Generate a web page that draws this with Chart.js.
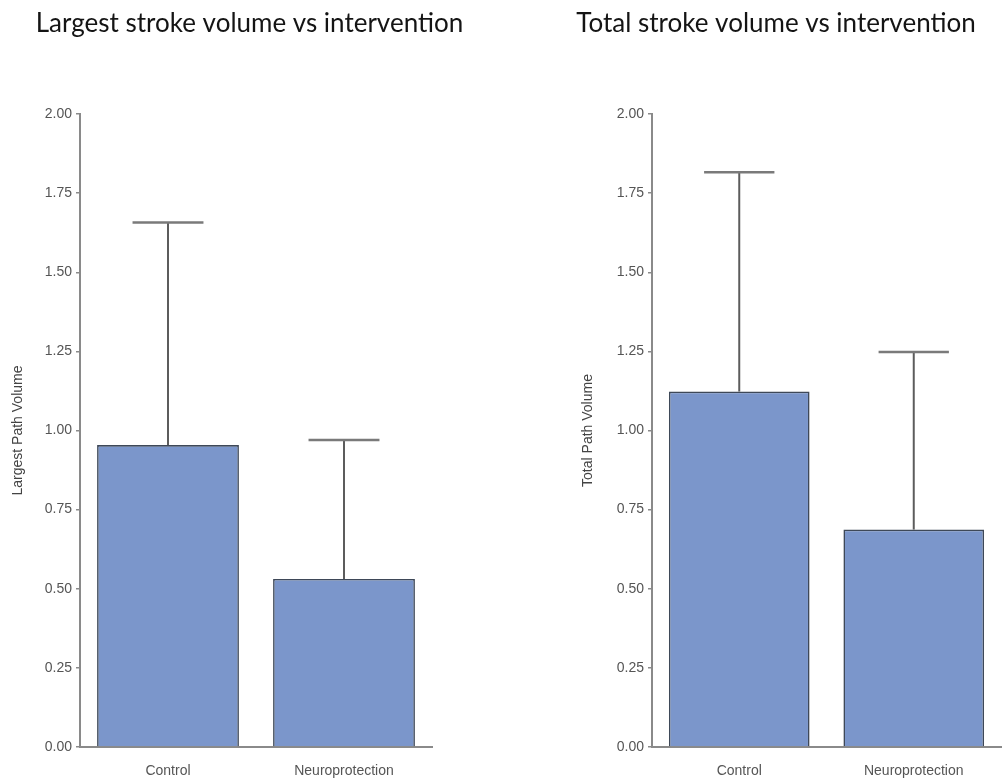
<!DOCTYPE html>
<html>
<head>
<meta charset="utf-8">
<script src="https://cdn.jsdelivr.net/npm/chart.js@4.4.1/dist/chart.umd.min.js"></script>
<style>
  html, body { margin: 0; padding: 0; background: #ffffff; }
  body { width: 1002px; height: 781px; position: relative; overflow: hidden; }
  .panel { position: absolute; top: 0; height: 781px; }
  #leftPanel { left: 0; width: 499px; }
  #rightPanel { left: 550px; width: 452px; }
</style>
</head>
<body>
<div class="panel" id="leftPanel"><canvas id="largestChart"></canvas></div>
<div class="panel" id="rightPanel"><canvas id="totalChart"></canvas></div>
<script>
// Groups compared in both panels
const categories = ['Control', 'Neuroprotection'];

// Largest path volume: group means and upper error limits
const largestMean = [0.954, 0.531];
const largestUpper = [1.657, 0.970];

// Total path volume: group means and upper error limits
const totalMean = [1.123, 0.687];
const totalUpper = [1.816, 1.248];

// Value axis ticks
const yTicks = [0, 0.25, 0.5, 0.75, 1.0, 1.25, 1.5, 1.75, 2.0];

const BAR_FILL = '#7b96cb';
const BAR_EDGE = '#3e4858';
const AXIS_GRAY = '#8a8a8a';
const LABEL_GRAY = '#555555';

// Draws one-sided (upward) error bars with a horizontal cap
const upperErrorBars = {
  id: 'upperErrorBars',
  afterDatasetsDraw(chart, args, opts) {
    const meta = chart.getDatasetMeta(0);
    const yScale = chart.scales.y;
    const ctx = chart.ctx;
    ctx.save();
    meta.data.forEach((bar, i) => {
      const top = yScale.getPixelForValue(opts.upper[i]);
      const base = yScale.getPixelForValue(chart.data.datasets[0].data[i]);
      const half = bar.width * 0.25;
      ctx.strokeStyle = '#5c5c5c';
      ctx.lineWidth = 2;
      ctx.beginPath();
      ctx.moveTo(bar.x, base);
      ctx.lineTo(bar.x, top);
      ctx.stroke();
      ctx.strokeStyle = '#7a7a7a';
      ctx.lineWidth = 2.5;
      ctx.beginPath();
      ctx.moveTo(bar.x - half, top);
      ctx.lineTo(bar.x + half, top);
      ctx.stroke();
    });
    ctx.restore();
  }
};

function buildChart(canvasId, title, axisTitle, means, upper, axisWidth, titlePad, rightSpace) {
  return new Chart(document.getElementById(canvasId), {
    type: 'bar',
    data: {
      labels: categories,
      datasets: [{
        data: means,
        backgroundColor: BAR_FILL,
        borderColor: BAR_EDGE,
        borderWidth: 1.6,
        barPercentage: 0.806,
        categoryPercentage: 1.0
      }]
    },
    options: {
      responsive: true,
      maintainAspectRatio: false,
      animation: false,
      layout: { padding: 0 },
      plugins: {
        legend: { display: false },
        tooltip: { enabled: false },
        title: {
          display: true,
          text: title,
          color: '#141414',
          font: { family: 'Lato', size: 26, weight: 'normal' },
          padding: { top: 8, bottom: 74.8 }
        },
        upperErrorBars: { upper: upper }
      },
      scales: {
        x: {
          offset: true,
          grid: { display: false, drawTicks: false },
          border: { display: true, color: AXIS_GRAY, width: 2 },
          ticks: { color: LABEL_GRAY, padding: 16, font: { family: 'Liberation Sans', size: 14 } },
          afterFit(scale) { scale.height = 34; }
        },
        y: {
          min: 0,
          max: 2,
          afterBuildTicks(scale) { scale.ticks = yTicks.map(v => ({ value: v })); },
          grid: { display: true, drawOnChartArea: false, drawTicks: true, tickLength: 4, color: AXIS_GRAY, lineWidth: 1.5 },
          border: { display: true, color: AXIS_GRAY, width: 2 },
          ticks: {
            color: LABEL_GRAY,
            padding: 4,
            font: { family: 'Liberation Sans', size: 14 },
            callback: v => Number(v).toFixed(2)
          },
          title: {
            display: true,
            text: axisTitle,
            color: '#444444',
            font: { family: 'Liberation Sans', size: 14 },
            padding: { top: titlePad, bottom: 0 }
          },
          afterFit(scale) { scale.width = axisWidth; }
        },
        // empty right-hand strip: keeps the plot narrower than the panel
        spacer: {
          type: 'linear',
          position: 'right',
          display: rightSpace > 0,
          grid: { display: false },
          border: { display: false },
          ticks: { display: false },
          afterFit(scale) { scale.width = rightSpace; }
        }
      }
    },
    plugins: [upperErrorBars]
  });
}

buildChart('largestChart', 'Largest stroke volume vs intervention', 'Largest Path Volume',
  largestMean, largestUpper, 80, 10, 67);
buildChart('totalChart', 'Total stroke volume vs intervention', 'Total Path Volume',
  totalMean, totalUpper, 102, 30, 1);
</script>
</body>
</html>
